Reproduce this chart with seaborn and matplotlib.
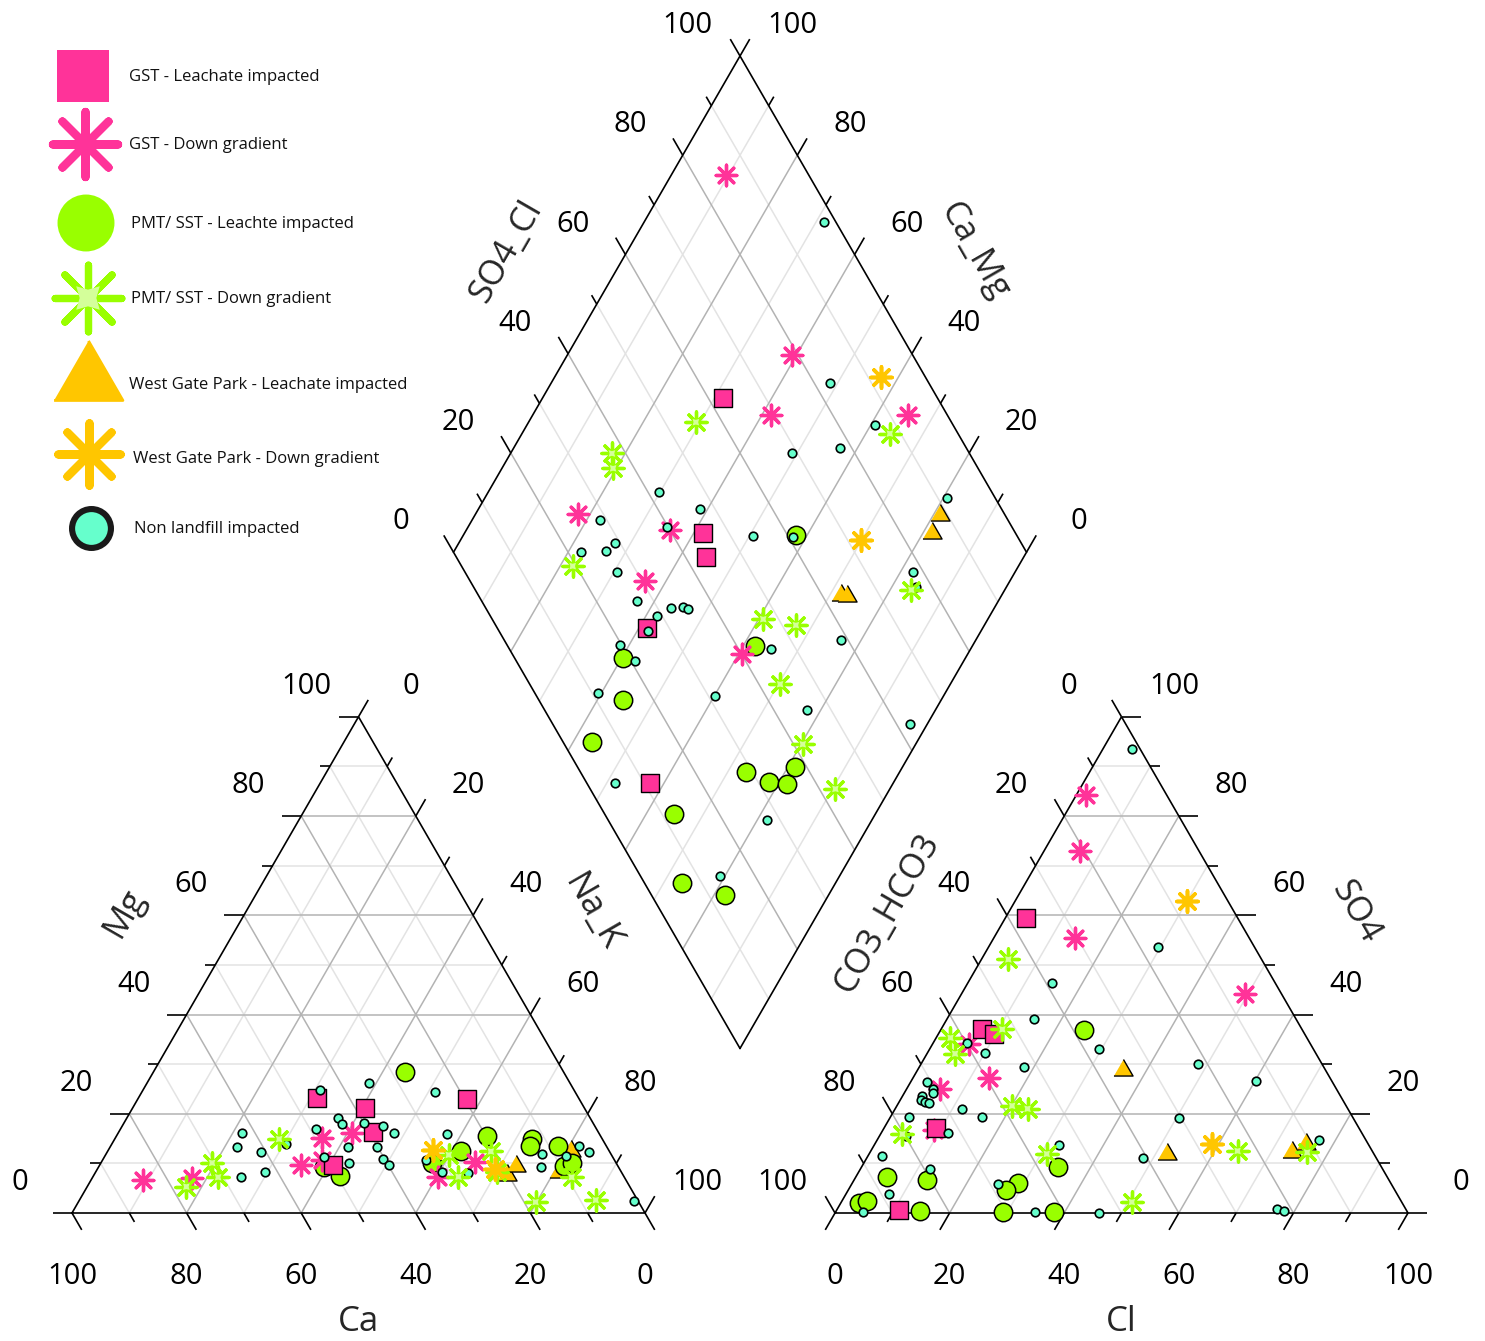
import numpy as np
import pandas as pd
import matplotlib
matplotlib.use("Agg")
import matplotlib.pyplot as plt
import seaborn as sns

sns.set_style("white")
plt.rcParams["font.family"] = ["Open Sans", "DejaVu Sans"]

# ------------------------------------------------------------------
# Sample compositions (percent of meq/L)
# cation triangle: Ca, Mg        (Na_K = 100 - Ca - Mg)
# anion triangle:  Cl, SO4       (CO3_HCO3 = 100 - Cl - SO4)
# central diamond: SO4_Cl, Ca_Mg
# ------------------------------------------------------------------

# GST - Leachate impacted
GST_LEACH_CA = [45.6, 38.3, 39.4, 19.6, 49.6]
GST_LEACH_MG = [23.2, 21.1, 16.3, 22.9, 9.7]
GST_LEACH_CL = [3.6, 7.1, 9.7, 9.1, 10.9]
GST_LEACH_SO4 = [59.4, 37.0, 36.0, 17.2, 0.6]
GST_LEACH_SO4CL = [62.6, 45.5, 43.6, 26.1, 11.0]
GST_LEACH_CAMG = [68.4, 58.3, 55.4, 58.6, 42.4]

# GST - Down gradient
GST_DOWN_CA = [84.3, 75.5, 55.3, 48.8, 43.0, 51.1, 32.4, 24.5]
GST_DOWN_MG = [6.7, 7.1, 9.6, 15.2, 16.1, 10.7, 7.3, 10.3]
GST_DOWN_CL = [1.7, 6.3, 14.2, 49.5, 6.4, 13.2, 5.9, 8.9]
GST_DOWN_SO4 = [84.2, 73.0, 55.5, 44.2, 34.0, 27.3, 24.9, 16.7]
GST_DOWN_SO4CL = [85.5, 78.9, 69.2, 93.1, 25.6, 40.0, 30.5, 40.0]
GST_DOWN_CAMG = [90.5, 60.8, 58.5, 34.5, 82.2, 64.5, 63.6, 39.4]

# PMT/ SST - Leachate impacted
PMT_LEACH_CA = [51.4, 49.5, 27.6, 19.8, 25.8, 32.2, 12.2, 13.4, 8.5, 9.4, 7.8]
PMT_LEACH_MG = [9.3, 7.5, 28.4, 15.5, 12.5, 10.1, 15.0, 13.5, 13.5, 9.5, 10.0]
PMT_LEACH_CL = [25.1, 34.2, 5.4, 12.7, 29.0, 27.5, 3.2, 4.4, 14.5, 29.1, 38.0]
PMT_LEACH_SO4 = [36.8, 9.3, 7.2, 6.7, 6.0, 4.6, 2.0, 2.4, 0.5, 0.3, 0.3]
PMT_LEACH_SO4CL = [61.6, 43.2, 19.0, 14.6, 5.1, 28.9, 31.9, 34.8, 38.0, 12.2, 6.6, 12.8]
PMT_LEACH_CAMG = [41.9, 37.9, 59.7, 55.6, 56.6, 26.8, 21.8, 18.5, 18.7, 35.1, 26.7, 18.2]

# PMT/ SST - Down gradient
PMT_DOWN_CA = [77.4, 70.5, 70.9, 56.4, 28.4, 28.9, 20.7, 21.8, 9.2, 18.0, 7.3]
PMT_DOWN_MG = [5.3, 10.1, 7.2, 14.9, 11.7, 7.3, 12.4, 8.2, 7.2, 2.2, 2.6]
PMT_DOWN_CL = [10.7, 2.5, 4.9, 4.7, 20.1, 23.1, 3.8, 31.0, 64.0, 76.3, 50.7]
PMT_DOWN_SO4 = [37.0, 35.3, 32.1, 51.1, 21.6, 21.0, 15.9, 11.9, 12.5, 12.2, 2.2]
PMT_DOWN_SO4CL = [55.4, 37.6, 36.3, 88.1, 19.4, 76.1, 47.3, 52.4, 43.7, 41.6, 42.8]
PMT_DOWN_CAMG = [70.8, 82.3, 80.6, 35.8, 77.8, 16.3, 39.2, 32.9, 29.7, 19.7, 9.5]

# West Gate Park - Leachate impacted
WGP_LEACH_CA = [20.3, 17.7, 6.7, 10.9]
WGP_LEACH_MG = [7.7, 9.5, 12.5, 8.2]
WGP_LEACH_CL = [35.9, 52.0, 73.6, 75.2]
WGP_LEACH_SO4 = [28.8, 11.9, 12.2, 13.9]
WGP_LEACH_SO4CL = [88.6, 85.4, 63.4, 64.3]
WGP_LEACH_CAMG = [18.9, 18.5, 28.0, 26.9]

# West Gate Park - Down gradient
WGP_DOWN_CA = [30.6, 21.8]
WGP_DOWN_MG = [12.7, 8.9]
WGP_DOWN_CL = [30.0, 58.9]
WGP_DOWN_SO4 = [62.8, 13.9]
WGP_DOWN_SO4CL = [92.3, 72.3]
WGP_DOWN_CAMG = [43.0, 30.1]

# Non landfill impacted
NON_CA = [44.4, 62.2, 64.6, 61.0, 66.9, 62.2, 55.7, 48.9, 44.0, 44.0, 45.1, 40.0,
          35.1, 50.5, 46.6, 24.5, 37.0, 35.7, 40.2, 40.2, 39.8, 26.6, 32.8, 31.3,
          26.8, 12.0, 13.6, 4.7, 3.7, 8.1, 0.8]
NON_MG = [24.7, 16.1, 13.3, 12.2, 7.2, 8.3, 13.9, 16.9, 19.2, 17.9, 13.3, 18.2,
          26.1, 11.2, 10.1, 24.3, 17.5, 16.1, 13.3, 10.9, 9.7, 15.9, 10.7, 8.3,
          8.1, 11.8, 9.2, 13.5, 12.2, 11.5, 2.4]
NON_CL = [5.0, 29.5, 14.8, 15.2, 29.5, 5.9, 10.1, 18.3, 2.9, 4.7, 5.0, 3.3, 3.6,
          4.5, 5.4, 11.8, 16.0, 3.2, 11.7, 4.6, 2.5, 32.2, 12.2, 7.5, 25.6, 4.8,
          34.8, 46.0, 48.3, 60.2, 50.4, 48.3, 77.1, 76.7, 78.2]
NON_SO4 = [93.5, 53.7, 46.3, 39.1, 33.1, 34.2, 32.3, 29.5, 26.4, 24.9, 24.1, 23.6,
           22.8, 22.4, 22.1, 20.9, 19.4, 19.3, 16.2, 15.5, 11.5, 13.7, 8.8, 3.8,
           5.8, 0.3, 0.2, 0.1, 30.0, 26.7, 19.2, 11.0, 14.7, 0.9, 0.4]
NON_SO4CL = [98.0, 82.8, 86.3, 78.0, 69.1, 42.0, 47.5, 28.9, 39.8, 53.8, 60.8, 91.5,
             22.2, 26.7, 29.0, 26.6, 78.2, 77.3, 27.2, 34.6, 35.2, 32.4, 29.2, 26.0,
             58.9, 19.8, 20.7, 45.6, 11.0, 31.2, 45.8, 62.3, 4.8, 27.7, 13.9]
NON_CAMG = [68.6, 51.4, 39.3, 43.1, 50.8, 70.2, 61.3, 77.6, 65.3, 49.4, 42.2, 19.4,
            77.8, 73.5, 72.8, 69.4, 17.8, 15.7, 63.0, 54.4, 53.3, 56.4, 58.0, 58.2,
            23.5, 61.6, 57.3, 34.8, 60.7, 39.9, 22.4, 3.1, 48.6, 18.3, 20.8]

GROUP_LABELS = ["GST - Leachate impacted", "GST - Down gradient",
                "PMT/ SST - Leachte impacted", "PMT/ SST - Down gradient",
                "West Gate Park - Leachate impacted", "West Gate Park - Down gradient",
                "Non landfill impacted"]

# ------------------------------------------------------------------
# Piper geometry (triangle side = 100 units)
# ------------------------------------------------------------------
S60 = np.sqrt(3) / 2
GAP = 33.16
BX, BY = 100 + GAP / 2, GAP * S60


def cat_xy(ca, mg):
    ca = np.asarray(ca, float)
    mg = np.asarray(mg, float)
    return 100 - ca - mg / 2, mg * S60


def an_xy(cl, so4):
    cl = np.asarray(cl, float)
    so4 = np.asarray(so4, float)
    return 100 + GAP + cl + so4 / 2, so4 * S60


def dia_xy(so4cl, camg):
    a = np.asarray(so4cl, float)
    c = np.asarray(camg, float)
    return BX + (a - c) / 2, BY + (a + c) * S60


PINK = "#ff3399"
GREEN = "#99ff00"
LIGHT_GREEN = "#d4ff9a"
ORANGE = "#ffc600"
TEAL = "#66ffcc"
ASTER = (8, 2, 0)
TRI = [(-1.0, -0.58), (1.0, -0.58), (0.0, 1.15)]

groups = [
    ("gst_leach", GST_LEACH_CA, GST_LEACH_MG, GST_LEACH_CL, GST_LEACH_SO4, GST_LEACH_SO4CL, GST_LEACH_CAMG),
    ("gst_down", GST_DOWN_CA, GST_DOWN_MG, GST_DOWN_CL, GST_DOWN_SO4, GST_DOWN_SO4CL, GST_DOWN_CAMG),
    ("pmt_leach", PMT_LEACH_CA, PMT_LEACH_MG, PMT_LEACH_CL, PMT_LEACH_SO4, PMT_LEACH_SO4CL, PMT_LEACH_CAMG),
    ("pmt_down", PMT_DOWN_CA, PMT_DOWN_MG, PMT_DOWN_CL, PMT_DOWN_SO4, PMT_DOWN_SO4CL, PMT_DOWN_CAMG),
    ("wgp_leach", WGP_LEACH_CA, WGP_LEACH_MG, WGP_LEACH_CL, WGP_LEACH_SO4, WGP_LEACH_SO4CL, WGP_LEACH_CAMG),
    ("wgp_down", WGP_DOWN_CA, WGP_DOWN_MG, WGP_DOWN_CL, WGP_DOWN_SO4, WGP_DOWN_SO4CL, WGP_DOWN_CAMG),
    ("non", NON_CA, NON_MG, NON_CL, NON_SO4, NON_SO4CL, NON_CAMG),
]

frames = []
for name, ca, mg, cl, so4, so4cl, camg in groups:
    for px, py in (cat_xy(ca, mg), an_xy(cl, so4), dia_xy(so4cl, camg)):
        frames.append(pd.DataFrame({"x": px, "y": py, "group": name}))
df = pd.concat(frames, ignore_index=True)

# ------------------------------------------------------------------
fig = plt.figure(figsize=(14.85, 13.41), dpi=100)
ax = fig.add_axes([0, 0, 1, 1])
PX = 5.73
ax.set_xlim(-72 / PX, (1485 - 72) / PX)
ax.set_ylim(-(1341 - 1213) / PX, 1213 / PX)
ax.axis("off")


def seg(p, q, **kw):
    ax.plot([p[0], q[0]], [p[1], q[1]], **kw)


# grid: odd tens light, even tens darker
for major in (False, True):
    for v in range(10, 100, 10):
        if (v % 20 == 0) != major:
            continue
        kw = dict(color="#b3b3b3" if major else "#e3e3e3", lw=1.1,
                  zorder=1.1 if major else 1.0, solid_capstyle="butt")
        seg(cat_xy(100 - v, v), cat_xy(0, v), **kw)
        seg(cat_xy(v, 0), cat_xy(v, 100 - v), **kw)
        seg(cat_xy(100 - v, 0), cat_xy(0, 100 - v), **kw)
        seg(an_xy(0, v), an_xy(100 - v, v), **kw)
        seg(an_xy(v, 0), an_xy(v, 100 - v), **kw)
        seg(an_xy(100 - v, 0), an_xy(0, 100 - v), **kw)
        seg(dia_xy(v, 0), dia_xy(v, 100), **kw)
        seg(dia_xy(0, v), dia_xy(100, v), **kw)

# outlines
edge_kw = dict(color="black", lw=1.2, zorder=2, solid_joinstyle="miter")
for fn, corners in ((cat_xy, [(100, 0), (0, 0), (0, 100), (100, 0)]),
                    (an_xy, [(0, 0), (100, 0), (0, 100), (0, 0)]),
                    (dia_xy, [(0, 0), (100, 0), (100, 100), (0, 100), (0, 0)])):
    pts = np.array([fn(*c) for c in corners], dtype=float)
    ax.plot(pts[:, 0], pts[:, 1], **edge_kw)

TICK_MAJ, TICK_MIN = 3.4, 1.8


def axis_ticks(pos_fn, tdir, normal, off=10.6):
    for v in range(0, 101, 10):
        x0, y0 = (float(t) for t in pos_fn(v))
        L = TICK_MAJ if v % 20 == 0 else TICK_MIN
        ax.plot([x0, x0 + L * tdir[0]], [y0, y0 + L * tdir[1]], color="black",
                lw=1.2, zorder=2, solid_capstyle="butt")
        if v % 20 == 0:
            ax.text(x0 + off * normal[0], y0 + off * normal[1], f"{v}",
                    ha="center", va="center", fontsize=21, color="black")


axis_ticks(lambda v: cat_xy(v, 0), (0.5, -S60), (0, -1), off=11.0)
axis_ticks(lambda v: cat_xy(100 - v, v), (-1, 0), (-S60, 0.5))
axis_ticks(lambda v: cat_xy(0, 100 - v), (0.5, S60), (S60, 0.5))
axis_ticks(lambda v: an_xy(v, 0), (-0.5, -S60), (0, -1), off=11.0)
axis_ticks(lambda v: an_xy(100 - v, v), (1, 0), (S60, 0.5))
axis_ticks(lambda v: an_xy(0, 100 - v), (-0.5, S60), (-S60, 0.5))
axis_ticks(lambda v: dia_xy(v, 100), (-0.5, S60), (-S60, 0.5))
axis_ticks(lambda v: dia_xy(100, v), (0.5, S60), (S60, 0.5))


def title(text, p, normal, rot, off=18.3, size=25):
    x0, y0 = (float(t) for t in p)
    ax.text(x0 + off * normal[0], y0 + off * normal[1], text, rotation=rot,
            rotation_mode="anchor", ha="center", va="center", fontsize=size)


title("Ca", cat_xy(50, 0), (0, -1), 0, off=19.0)
title("Mg", cat_xy(50, 50), (-S60, 0.5), 60)
title("Na_K", cat_xy(0, 50), (S60, 0.5), -60)
title("Cl", an_xy(50, 0), (0, -1), 0, off=19.0)
title("CO3_HCO3", an_xy(0, 50), (-S60, 0.5), 60)
title("SO4", an_xy(50, 50), (S60, 0.5), -60)
title("SO4_Cl", dia_xy(50, 100), (-S60, 0.5), 60)
title("Ca_Mg", dia_xy(100, 50), (S60, 0.5), -60)

# ------------------------------------------------------------------
# sample markers
styles = {
    "wgp_leach": dict(marker=TRI, s=250, color=ORANGE, edgecolor="black", linewidth=1.0, zorder=3.0),
    "pmt_leach": dict(marker="o", s=175, color=GREEN, edgecolor="black", linewidth=1.1, zorder=3.2),
    "gst_down": dict(marker=ASTER, s=220, color=PINK, linewidth=2.4, zorder=3.4),
    "gst_leach": dict(marker="s", s=150, color=PINK, edgecolor="black", linewidth=1.0, zorder=3.6),
    "non": dict(marker="o", s=38, color=TEAL, edgecolor="black", linewidth=1.2, zorder=3.8),
    "pmt_down": dict(marker=ASTER, s=230, color=GREEN, linewidth=2.4, zorder=4.0),
    "wgp_down": dict(marker=ASTER, s=230, color=ORANGE, linewidth=2.6, zorder=4.2),
}
for name, st in styles.items():
    sub = df[df["group"] == name]
    sns.scatterplot(data=sub, x="x", y="y", ax=ax, legend=False, **st)
    if name == "pmt_down":
        sns.scatterplot(data=sub, x="x", y="y", ax=ax, legend=False, marker=(4, 1, 45),
                        s=45, color=LIGHT_GREEN, edgecolor="none", linewidth=0, zorder=4.05)
ax.set_xlim(-72 / PX, (1485 - 72) / PX)
ax.set_ylim(-(1341 - 1213) / PX, 1213 / PX)
ax.axis("off")

# ------------------------------------------------------------------
# legend keys
lg = fig.add_axes([0, 0, 1, 1])
lg.set_xlim(0, 1485)
lg.set_ylim(1341, 0)
lg.axis("off")
lg.patch.set_visible(False)

key_styles = [
    dict(marker="s", s=38 ** 2, color=PINK, edgecolors="none"),
    dict(marker=ASTER, s=47 ** 2, color=PINK, linewidths=5.8, capstyle="round"),
    dict(marker="o", s=41 ** 2, color=GREEN, edgecolors="none"),
    dict(marker=ASTER, s=48 ** 2, color=GREEN, linewidths=5.2, capstyle="round"),
    dict(marker=TRI, s=57 ** 2, color=ORANGE, edgecolors=ORANGE, linewidths=2, joinstyle="round"),
    dict(marker=ASTER, s=45 ** 2, color=ORANGE, linewidths=5.8, capstyle="round"),
    dict(marker="o", s=28 ** 2, color=TEAL, edgecolors="#1a1a1a", linewidths=4.4),
]
key_pos = [(83, 76), (85, 144), (86, 223), (88, 298), (88, 380), (89, 454), (91, 528)]
text_pos = [(129, 77), (129, 145), (131, 224), (131, 299), (129, 385), (133, 459), (134, 529)]
for st, (kx, ky), (tx, ty), label in zip(key_styles, key_pos, text_pos, GROUP_LABELS):
    lg.scatter([kx], [ky], **st)
    lg.text(tx, ty, label, ha="left", va="center", fontsize=12, color="#111111")
lg.scatter([88], [298], marker=(4, 1, 45), s=24 ** 2, color=LIGHT_GREEN, edgecolors="none", zorder=3)

fig.savefig("out.png", dpi=100, facecolor="white")
